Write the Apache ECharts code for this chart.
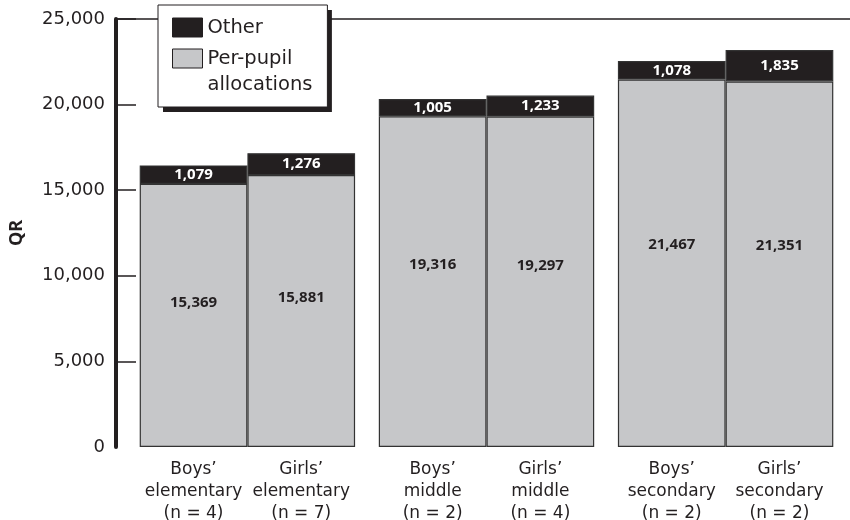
<!DOCTYPE html>
<html>
<head>
<meta charset="utf-8">
<script src="https://cdn.jsdelivr.net/npm/echarts@6/dist/echarts.min.js"></script>
<style>
  html, body { margin: 0; padding: 0; background: #fff; }
  #chart { width: 850px; height: 520px; }
</style>
</head>
<body>
<div id="chart"></div>
<script>
// ---- data ----
const categories = [
  ["Boys’", "elementary", "(n = 4)"],
  ["Girls’", "elementary", "(n = 7)"],
  ["Boys’", "middle", "(n = 2)"],
  ["Girls’", "middle", "(n = 4)"],
  ["Boys’", "secondary", "(n = 2)"],
  ["Girls’", "secondary", "(n = 2)"]
];
const groups = ["elementary", "middle", "secondary"];
const perPupil = [15369, 15881, 19316, 19297, 21467, 21351];
const other = [1079, 1276, 1005, 1233, 1078, 1835];
const yTicks = [0, 5000, 10000, 15000, 20000, 25000];
const seriesNames = ["Other", "Per-pupil allocations"];

// ---- layout ----
const SANS = "'DejaVu Sans', sans-serif";
const BOLD = "'Open Sans', 'Noto Sans', sans-serif";
const INK = '#231f20';
const GRAY = '#c6c7c9';
const axisX = 116;            // y-axis line position
const barPx = 107.7;          // bar width
const gapPx = 23.7;           // gap between pairs
const bandPx = 2 * barPx + gapPx;
const gridLeft = axisX + gapPx / 2;
const gridWidth = bandPx * groups.length;
const gridRight = 850 - gridLeft - gridWidth;
const gridTop = 19, gridBottom = 73;

const fmt = v => Number(v).toLocaleString('en-US');
const boysIdx = groups.map((g, i) => 2 * i);
const girlsIdx = groups.map((g, i) => 2 * i + 1);

function ppSeries(idx, stack) {
  return {
    name: seriesNames[1], type: 'bar', stack: stack,
    barWidth: barPx, barGap: '0%',
    data: idx.map(i => perPupil[i]),
    itemStyle: { color: GRAY, borderColor: '#333', borderWidth: 1.2 },
    label: {
      show: true, position: ['50%', '45%'], align: 'center', verticalAlign: 'middle',
      fontFamily: BOLD, fontSize: 15, fontWeight: 'bold', color: INK,
      formatter: p => fmt(p.value)
    }
  };
}
function otherSeries(idx, stack) {
  return {
    name: seriesNames[0], type: 'bar', stack: stack,
    barWidth: barPx, barGap: '0%',
    data: idx.map(i => other[i]),
    itemStyle: { color: INK, borderColor: '#333', borderWidth: 1.2 },
    label: {
      show: true, position: 'inside',
      fontFamily: BOLD, fontSize: 15, fontWeight: 'bold', color: '#fff',
      formatter: p => fmt(p.value)
    }
  };
}

const legendFormatter = name => name === seriesNames[1]
  ? '{p| }\n{p|Per-pupil}\n{p|allocations}'
  : '{p|' + name + '}';

function makeLegend(isShadow) {
  const txt = isShadow ? 'rgba(0,0,0,0)' : INK;
  return {
    left: isShadow ? 163 : 158, top: isShadow ? 10 : 5,
    z: isShadow ? 3 : 5,
    orient: 'vertical',
    padding: [12.5, 15, 12.5, 14],
    itemGap: -15,
    itemWidth: 30, itemHeight: 19,
    icon: 'rect',
    textGap: 5,
    selectedMode: false,
    itemStyle: isShadow ? { borderWidth: 0 } : { borderColor: INK, borderWidth: 1 },
    backgroundColor: isShadow ? INK : '#fff',
    borderColor: INK, borderWidth: isShadow ? 0 : 1,
    textStyle: {
      fontFamily: SANS, fontSize: 19.5, color: txt,
      rich: { p: { fontFamily: SANS, fontSize: 19.5, lineHeight: 26, color: txt } }
    },
    data: [
      { name: seriesNames[0], itemStyle: { color: isShadow ? 'rgba(0,0,0,0)' : INK } },
      { name: seriesNames[1], itemStyle: { color: isShadow ? 'rgba(0,0,0,0)' : GRAY } }
    ],
    formatter: legendFormatter
  };
}

const chart = echarts.init(document.getElementById('chart'), null, { renderer: 'canvas' });
chart.setOption({
  animation: false,
  textStyle: { fontFamily: SANS, color: INK },
  grid: [
    { left: gridLeft, right: gridRight, top: gridTop, bottom: gridBottom, containLabel: false, outerBoundsMode: 'none' },
    { left: axisX, right: 0, top: gridTop, height: 10, containLabel: false, outerBoundsMode: 'none' }
  ],
  legend: [makeLegend(true), makeLegend(false)],
  xAxis: [
    {
      type: 'category', gridIndex: 0, data: groups,
      axisLine: { show: false }, axisTick: { show: false }, splitLine: { show: false },
      axisLabel: {
        interval: 0, margin: 12,
        fontFamily: SANS, fontSize: 17, lineHeight: 22, color: INK,
        formatter: (v, gi) => [0, 1, 2].map(line =>
          '{a|' + categories[2 * gi][line] + '}{b|' + categories[2 * gi + 1][line] + '}').join('\n'),
        rich: {
          a: { width: barPx, align: 'center', fontFamily: SANS, fontSize: 17, lineHeight: 22, color: INK },
          b: { width: barPx, align: 'center', fontFamily: SANS, fontSize: 17, lineHeight: 22, color: INK }
        }
      }
    },
    {
      type: 'value', gridIndex: 1, min: 0, max: 1, position: 'top',
      axisLine: { show: true, onZero: false, lineStyle: { color: INK, width: 1.5 } },
      axisTick: { show: false }, axisLabel: { show: false }, splitLine: { show: false }
    }
  ],
  yAxis: [
    {
      type: 'value', gridIndex: 0, min: 0, max: 25000, interval: 5000,
      offset: gridLeft - axisX,
      name: 'QR', nameLocation: 'middle', nameRotate: 90, nameGap: 90.5,
      nameTextStyle: { fontFamily: BOLD, fontSize: 18, fontWeight: 'bold', color: INK },
      axisLine: { show: true, lineStyle: { color: INK, width: 4 } },
      axisTick: { show: true, inside: true, length: 20, customValues: yTicks.slice(1), lineStyle: { color: INK, width: 1.5 } },
      splitLine: { show: false },
      axisLabel: { margin: 11, fontFamily: SANS, fontSize: 18, color: INK, formatter: v => fmt(v) }
    },
    {
      type: 'value', gridIndex: 1, min: 0, max: 1, show: false
    }
  ],
  series: [
    ppSeries(boysIdx, 'boys'),
    otherSeries(boysIdx, 'boys'),
    ppSeries(girlsIdx, 'girls'),
    otherSeries(girlsIdx, 'girls')
  ]
});
</script>
</body>
</html>
